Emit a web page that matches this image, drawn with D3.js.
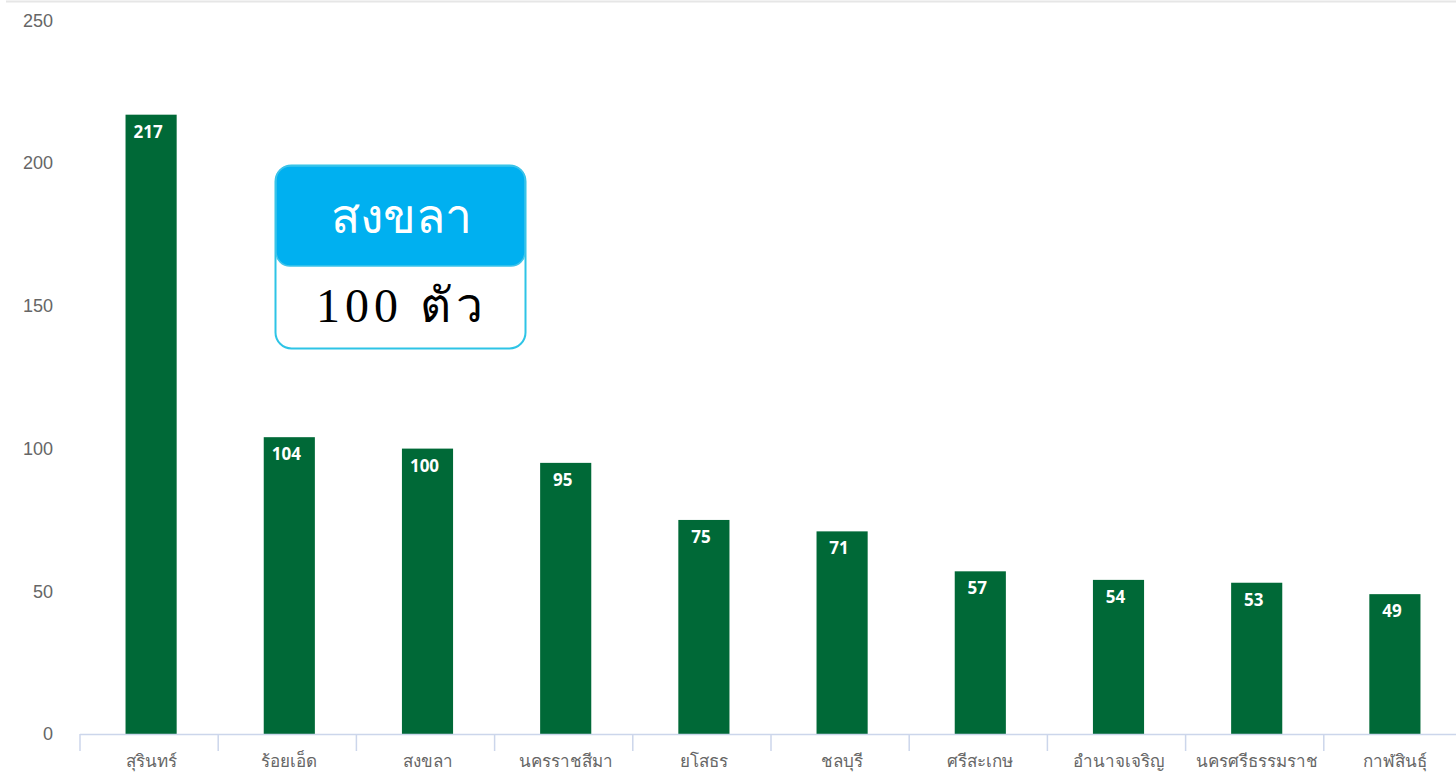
<!DOCTYPE html>
<html>
<head>
<meta charset="utf-8">
<script src="https://cdn.jsdelivr.net/npm/d3@7"></script>
<style>
  body { margin: 0; background: #fff; overflow: hidden; }
  svg { display: block; font-family: 'Noto Sans', 'DejaVu Sans', sans-serif; }
</style>
</head>
<body>
<div id="chart"></div>
<script>
// data
var provinces = ['สุรินทร์', 'ร้อยเอ็ด', 'สงขลา', 'นครราชสีมา', 'ยโสธร', 'ชลบุรี', 'ศรีสะเกษ', 'อำนาจเจริญ', 'นครศรีธรรมราช', 'กาฬสินธุ์']
var counts = [217, 104, 100, 95, 75, 71, 57, 54, 53, 49]
var yTicks = [0, 50, 100, 150, 200, 250]
var tipName = 'สงขลา'
var tipText = '100 ตัว'

var width = 1456
var height = 775
var margin = { top: 20, left: 80, bottom: 41 }

var svg = d3
  .select('#chart')
  .append('svg')
  .attr('width', width)
  .attr('height', height)

// faint frame line at the top
svg
  .append('line')
  .attr('x1', 6)
  .attr('x2', width)
  .attr('y1', 1.5)
  .attr('y2', 1.5)
  .attr('stroke', '#e6e6e6')
  .attr('stroke-width', 2)

var step = 138.2
var xScale = d3
  .scaleBand()
  .domain(provinces)
  .range([margin.left + 2, margin.left + 2 + step * provinces.length])
  .paddingInner(0.63)
  .paddingOuter(0.315)

var xBoundary = d3
  .scaleLinear()
  .domain([0, provinces.length])
  .range([margin.left, margin.left + step * provinces.length])

var yScale = d3
  .scaleLinear()
  .domain([0, 250])
  .range([height - margin.bottom, margin.top + 0.5])

// y labels (no axis line)
var yAxis = d3.axisLeft(yScale).tickValues(yTicks).tickSize(0).tickPadding(0)
var yg = svg
  .append('g')
  .attr('transform', 'translate(53,0)')
  .call(yAxis)
yg.select('.domain').remove()
yg.selectAll('text')
  .attr('fill', '#666')
  .attr('font-size', 18)
  .attr('dy', '0.32em')

// bars
svg
  .selectAll('.bar')
  .data(counts)
  .enter()
  .append('rect')
  .attr('class', 'bar')
  .attr('x', (d, i) => xScale(provinces[i]))
  .attr('width', xScale.bandwidth())
  .attr('y', d => yScale(d))
  .attr('height', d => yScale(0) - yScale(d))
  .attr('fill', '#006937')

// value labels
svg
  .selectAll('.val')
  .data(counts)
  .enter()
  .append('text')
  .attr('class', 'val')
  .attr('x', (d, i) => xScale(provinces[i]) + xScale.bandwidth() / 2 - 3)
  .attr('y', d => yScale(d) + 23)
  .attr('text-anchor', 'middle')
  .attr('fill', '#fff')
  .attr('font-size', 17)
  .attr('font-weight', 'bold')
  .text(d => d)

// x axis line and category ticks
var y0 = yScale(0)
svg
  .append('line')
  .attr('x1', margin.left)
  .attr('x2', width)
  .attr('y1', y0 + 0.5)
  .attr('y2', y0 + 0.5)
  .attr('stroke', '#ccd6eb')
  .attr('stroke-width', 1.5)

svg
  .selectAll('.xtick')
  .data(d3.range(provinces.length + 1))
  .enter()
  .append('line')
  .attr('class', 'xtick')
  .attr('x1', d => xBoundary(d))
  .attr('x2', d => xBoundary(d))
  .attr('y1', y0)
  .attr('y2', y0 + 17)
  .attr('stroke', '#ccd6eb')
  .attr('stroke-width', 1.5)

svg
  .selectAll('.xlabel')
  .data(provinces)
  .enter()
  .append('text')
  .attr('class', 'xlabel')
  .attr('x', d => xScale(d) + xScale.bandwidth() / 2)
  .attr('y', y0 + 33)
  .attr('text-anchor', 'middle')
  .attr('fill', '#666')
  .attr('font-size', 17)
  .text(d => d)

// tooltip box
var tip = svg.append('g').attr('transform', 'translate(275,165)')
var tw = 250
var th = 183
var headH = 100

tip
  .append('rect')
  .attr('x', 0.5)
  .attr('y', 0.5)
  .attr('width', tw)
  .attr('height', th)
  .attr('rx', 16)
  .attr('fill', '#fff')
  .attr('stroke', '#2ec4e6')
  .attr('stroke-width', 2)

tip
  .append('rect')
  .attr('x', 1)
  .attr('y', 1)
  .attr('width', tw - 1)
  .attr('height', headH)
  .attr('rx', 14)
  .attr('fill', '#00b0f0')
  .attr('stroke', '#3ec3ea')
  .attr('stroke-width', 1.5)

tip
  .append('text')
  .attr('x', tw / 2 + 1)
  .attr('y', 68)
  .attr('text-anchor', 'middle')
  .attr('fill', '#fff')
  .attr('font-size', 48)
  .text(tipName)

tip
  .append('text')
  .attr('x', tw / 2 + 2)
  .attr('y', 157)
  .attr('text-anchor', 'middle')
  .attr('fill', '#000')
  .attr('font-size', 48)
  .attr('letter-spacing', 5)
  .attr('font-family', "'Liberation Serif', 'DejaVu Serif', serif")
  .text(tipText)
</script>
</body>
</html>
